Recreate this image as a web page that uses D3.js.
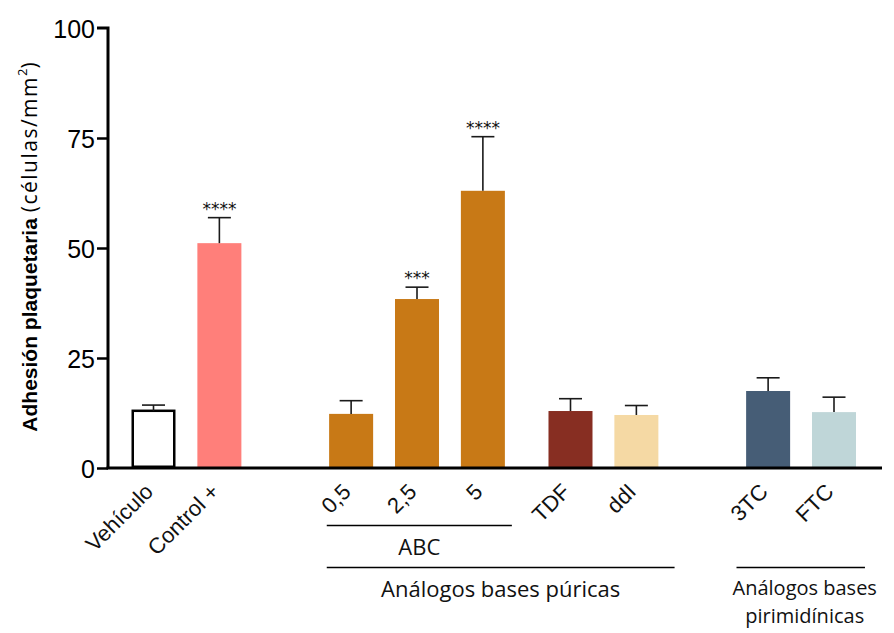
<!DOCTYPE html>
<html><head><meta charset="utf-8">
<script src="https://cdn.jsdelivr.net/npm/d3@7"></script>
<style>body{margin:0;background:#fff}svg{display:block}</style>
</head><body>
<script>
const categories = ["Vehículo","Control +","0,5","2,5","5","TDF","ddI","3TC","FTC"];
const means = [13.0, 51.1, 12.3, 38.4, 63.0, 12.95, 12.05, 17.5, 12.7];
const errors = [1.3, 5.8, 3.0, 2.7, 12.3, 2.8, 2.15, 3.0, 3.4];
const stars = ["", "****", "", "***", "****", "", "", "", ""];
const colors = ["#ffffff","#FF7F7A","#C87916","#C87916","#C87916","#872E22","#F5D9A4","#465D76","#BFD6D8"];
const yTicks = [0, 25, 50, 75, 100];
const groupLabels = [
  {label:["ABC"], from:"0,5", to:"5", level:1},
  {label:["Análogos bases púricas"], from:"0,5", to:"ddI", level:2},
  {label:["Análogos bases","pirimidínicas"], from:"3TC", to:"FTC", level:2}
];

const W = 894, H = 633;
const svg = d3.select("body").append("svg").attr("width", W).attr("height", H);

const extraGap = {"0,5":1, "TDF":0.33, "3TC":1};
let s = 0; const slot = {};
categories.forEach((c,i)=>{ if(i>0) s += 1 + (extraGap[c]||0); slot[c]=s; });
const x = d3.scaleLinear().domain([0, s]).range([153.5, 834]);
const slotW = x(1) - x(0);
const barW = slotW * 0.668;
const y = d3.scaleLinear().domain([0, 100]).range([468, 28]);

const axisX = 108;
const fontNum = "'Liberation Sans', Arial, sans-serif";
const fontLab = "'Open Sans', Lato, sans-serif";

const data = categories.map((c,i)=>({c, m:means[i], e:errors[i], st:stars[i], col:colors[i]}));
svg.append("g").selectAll("rect").data(data).join("rect")
  .attr("x", d=> d.c==="Vehículo" ? x(slot[d.c]) - barW/2 + 1.25 : x(slot[d.c]) - barW/2)
  .attr("width", d=> d.c==="Vehículo" ? barW - 2.5 : barW)
  .attr("y", d=> y(d.m))
  .attr("height", d=> d.c==="Vehículo" ? y(0) - y(d.m) - 1.25 : y(0) - y(d.m))
  .attr("fill", d=> d.col)
  .attr("stroke", d=> d.c==="Vehículo" ? "#000" : "none")
  .attr("stroke-width", 2.5);

const eg = svg.append("g").attr("stroke", "#1a1a1a").attr("stroke-width", 1.6);
data.forEach(d=>{
  const cx = x(slot[d.c]);
  eg.append("line").attr("x1", cx).attr("x2", cx).attr("y1", y(d.m)).attr("y2", y(d.m + d.e));
  eg.append("line").attr("x1", cx - 11.5).attr("x2", cx + 11.5).attr("y1", y(d.m + d.e)).attr("y2", y(d.m + d.e));
});

svg.append("g").selectAll("text").data(data.filter(d=>d.st)).join("text")
  .attr("x", d=> x(slot[d.c])).attr("y", d=> y(d.m + d.e) - 3)
  .attr("text-anchor", "middle").attr("font-family", "'DejaVu Sans', sans-serif")
  .attr("font-size", 17).attr("fill", "#111").text(d=> d.st);

const yAxis = d3.axisLeft(y).tickValues(yTicks).tickSize(11).tickPadding(2);
const ya = svg.append("g").attr("transform", `translate(${axisX},0)`).call(yAxis);
ya.select(".domain").attr("stroke", "#000").attr("stroke-width", 3).attr("d", `M-11,${y(100)}H0V${y(0)}`);
ya.selectAll(".tick line").attr("stroke", "#000").attr("stroke-width", 2.5);
ya.selectAll(".tick text").attr("font-family", fontNum).attr("font-size", 25).attr("fill", "#000").attr("dy", "0.36em");
ya.selectAll(".tick").filter(d=>d===100).select("line").remove();

svg.append("line").attr("x1", axisX - 1.5).attr("x2", 882).attr("y1", y(0)).attr("y2", y(0))
  .attr("stroke", "#000").attr("stroke-width", 3);

svg.append("g").selectAll("text").data(categories).join("text")
  .attr("transform", c=> `translate(${x(slot[c]) + 1},${493}) rotate(-45)`)
  .attr("text-anchor", "end")
  .attr("font-family", fontNum).attr("font-size", 22).attr("fill", "#111").text(c=>c);

const ext = {
  "ABC": [-0.37, 0.44],
  "Análogos bases púricas": [-0.37, 0.58],
  "Análogos bases": [-0.48, 0.47]
};
groupLabels.forEach(g=>{
  const e = ext[g.label[0]];
  const x1 = x(slot[g.from] + e[0]), x2 = x(slot[g.to] + e[1]);
  const ly = g.level === 1 ? 525.5 : 567.5;
  svg.append("line").attr("x1", x1).attr("x2", x2).attr("y1", ly).attr("y2", ly)
    .attr("stroke", "#000").attr("stroke-width", 1.6);
  const multi = g.label.length > 1;
  const cx = multi ? (x1 + x2)/2 + 4 : (x1 + x2)/2;
  g.label.forEach((l,i)=>{
    svg.append("text").attr("text-anchor", "middle").attr("font-family", fontLab)
      .attr("font-size", multi ? 20 : 22).attr("fill", "#111")
      .attr("x", cx).attr("y", multi ? ly + 27 + i*28 : ly + 29).text(l);
  });
});

const yt = svg.append("text").attr("transform", `translate(37,${247}) rotate(-90)`)
  .attr("text-anchor", "middle").attr("font-family", fontNum).attr("font-size", 21).attr("fill", "#000");
yt.append("tspan").attr("font-weight", "bold").text("Adhesión plaquetaria ");
yt.append("tspan").attr("font-family", fontLab).attr("font-size", 21).attr("letter-spacing", 1.5).text("(células/mm");
yt.append("tspan").attr("font-family", fontLab).attr("font-size", 13).attr("dy", "-0.75em").text("2");
yt.append("tspan").attr("font-family", fontLab).attr("font-size", 21).attr("dy", "0.46em").text(")");
</script>
</body></html>
